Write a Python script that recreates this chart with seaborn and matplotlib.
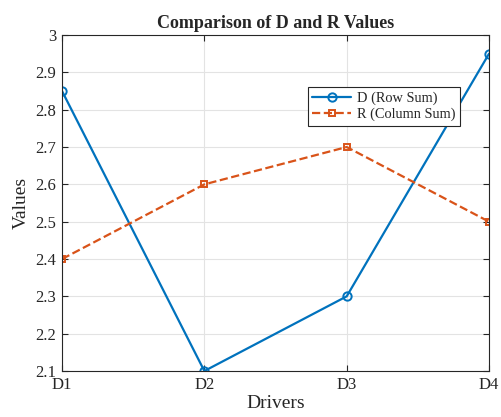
import matplotlib
matplotlib.use("Agg")
import matplotlib.pyplot as plt
import seaborn as sns
import pandas as pd

drivers = ["D1", "D2", "D3", "D4"]
d_values = [2.85, 2.10, 2.30, 2.95]
r_values = [2.40, 2.60, 2.70, 2.50]
y_ticks = [2.1, 2.2, 2.3, 2.4, 2.5, 2.6, 2.7, 2.8, 2.9, 3.0]
y_tick_labels = ["2.1", "2.2", "2.3", "2.4", "2.5", "2.6", "2.7", "2.8", "2.9", "3"]

sns.set_theme(style="white")
plt.rcParams['font.family'] = ['Liberation Serif', 'DejaVu Serif']

df = pd.DataFrame({"x": range(len(drivers)), "D": d_values, "R": r_values})

fig = plt.figure(figsize=(5.01, 4.17), dpi=100)
ax = fig.add_axes([0.1238, 0.1103, 0.8523, 0.8057])

blue = "#0072BD"
orange = "#D95319"
sns.lineplot(data=df, x="x", y="D", ax=ax, color=blue, linewidth=1.6,
             marker="o", markersize=6, markerfacecolor="none",
             markeredgecolor=blue, markeredgewidth=1.4, label="D (Row Sum)")
sns.lineplot(data=df, x="x", y="R", ax=ax, color=orange, linewidth=1.6,
             linestyle="--", marker="s", markersize=5, markerfacecolor="none",
             markeredgecolor=orange, markeredgewidth=1.4, label="R (Column Sum)")

ax.set_xlim(0, len(drivers) - 1)
ax.set_ylim(2.1, 3.0)
ax.set_xticks(range(len(drivers)))
ax.set_xticklabels(drivers)
ax.set_yticks(y_ticks)
ax.set_yticklabels(y_tick_labels)
ax.grid(True, color="#e3e3e3", linewidth=0.8)
ax.set_axisbelow(True)
for s in ax.spines.values():
    s.set_visible(True)
    s.set_color("#262626")
    s.set_linewidth(0.8)
ax.tick_params(axis="both", direction="in", length=4, width=0.8, colors="#262626",
               labelsize=12, top=True, right=True, bottom=True, left=True, pad=4)
for lbl in ax.get_xticklabels() + ax.get_yticklabels():
    lbl.set_color("#262626")

ax.set_xlabel("Drivers", fontsize=14, color="#262626", labelpad=2)
ax.set_ylabel("Values", fontsize=14, color="#262626", labelpad=4)
ax.set_title("Comparison of D and R Values", fontsize=13, fontweight="bold", pad=5)

leg = ax.legend(loc="upper left", bbox_to_anchor=(0.576, 0.845), fontsize=10.4,
                frameon=True, fancybox=False, edgecolor="#262626", framealpha=1,
                borderpad=0.3, handlelength=2.7, handletextpad=0.4, labelspacing=0.2,
                borderaxespad=0)
leg.get_frame().set_linewidth(0.8)

fig.savefig("out.png", dpi=100)
